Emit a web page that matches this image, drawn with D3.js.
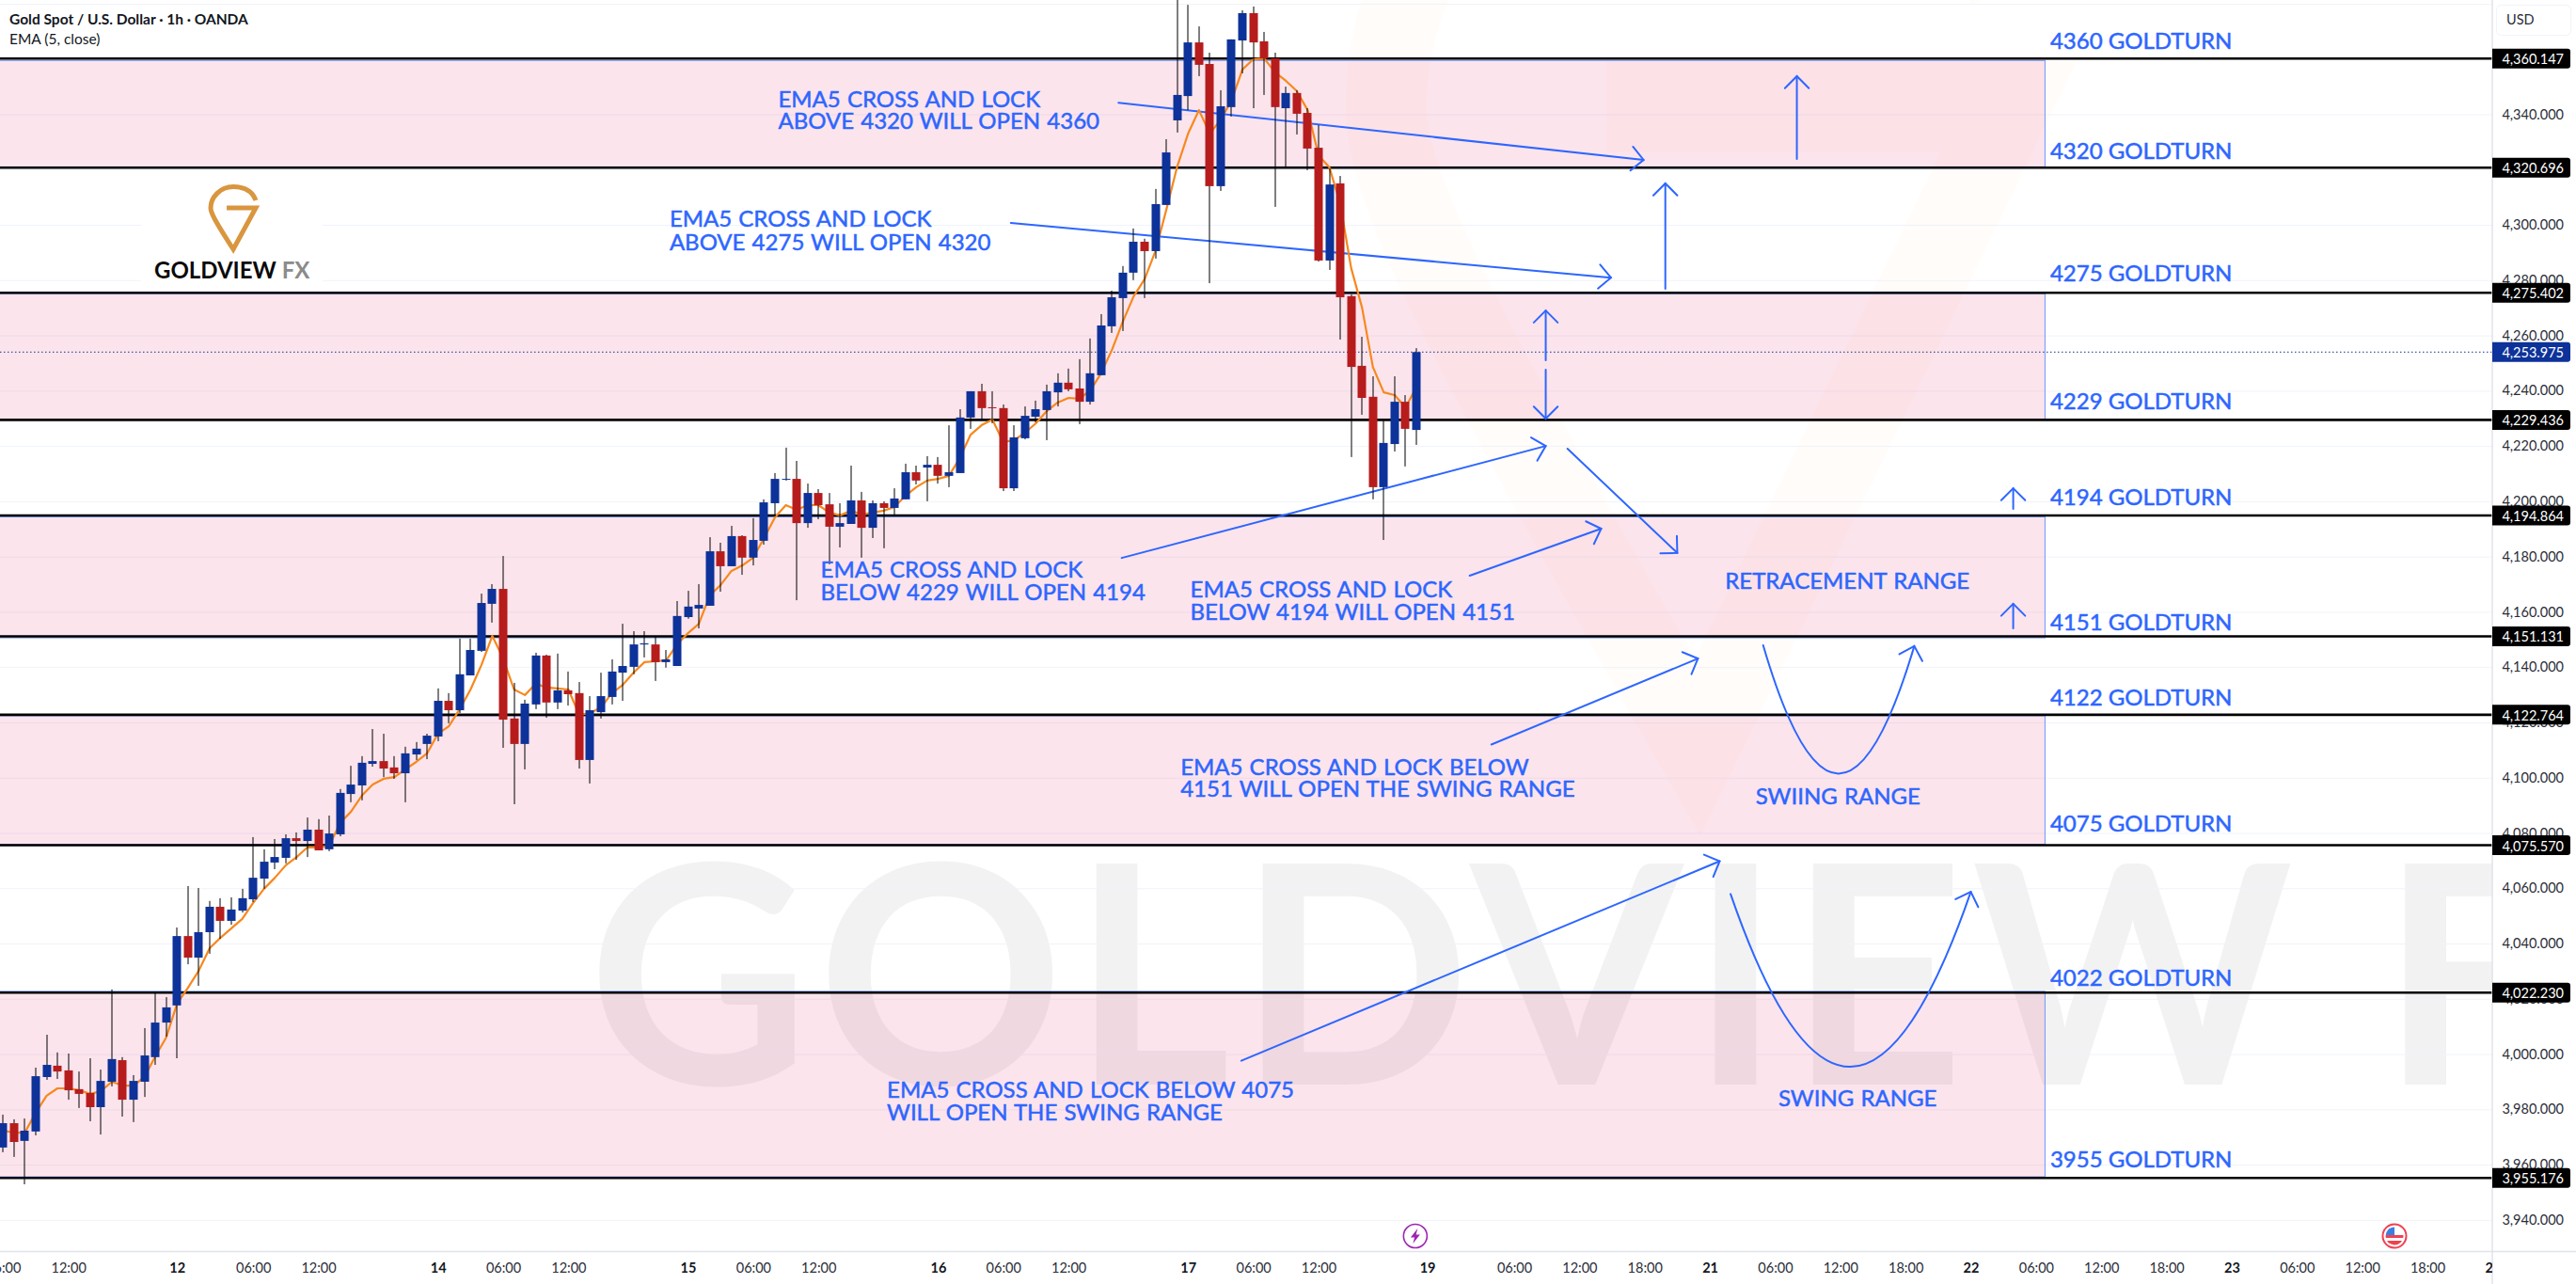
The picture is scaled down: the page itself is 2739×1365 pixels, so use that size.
<!DOCTYPE html>
<html>
<head>
<meta charset="utf-8">
<title>Gold Spot / U.S. Dollar 1h</title>
<script src="https://cdn.jsdelivr.net/npm/d3@7"></script>
<style>
  html, body { margin: 0; padding: 0; background: #fff; overflow: hidden; }
  svg { display: block; }
  text { font-family: "Lato", "Open Sans", sans-serif; }
</style>
</head>
<body>
<svg id="chart" width="2739" height="1365"></svg>
<script>
// Hourly OHLC for XAUUSD, one entry per bar.
const opens = [3966.2,3975.0,3968.6,3972.0,3991.7,3995.8,3994.1,3987.3,3985.9,3980.8,3990.0,3997.8,3983.5,3990.0,3998.9,4011.4,4017.6,4042.7,4034.9,4044.1,4053.3,4048.2,4051.9,4056.0,4063.5,4069.3,4071.0,4078.1,4077.1,4081.2,4074.1,4079.5,4094.1,4097.2,4105.0,4106.0,4103.7,4101.6,4108.4,4112.2,4114.9,4127.8,4124.4,4137.0,4145.9,4162.9,4168.3,4121.4,4112.2,4126.5,4144.2,4127.2,4131.6,4130.6,4106.4,4123.7,4129.2,4138.0,4140.1,4148.2,4148.2,4141.8,4140.4,4158.1,4161.2,4162.2,4181.9,4176.5,4187.4,4179.6,4185.7,4199.3,4207.8,4208.1,4192.1,4203.0,4198.9,4190.8,4191.8,4200.3,4190.4,4199.3,4197.6,4200.7,4210.5,4212.2,4213.2,4209.2,4210.2,4230.3,4239.8,4234.0,4233.7,4204.7,4222.8,4230.6,4233.0,4239.4,4242.9,4240.8,4236.0,4245.6,4263.3,4273.5,4282.7,4293.9,4290.5,4307.2,4337.8,4346.6,4366.0,4358.2,4314.0,4342.6,4366.7,4376.6,4366.4,4360.2,4342.2,4347.7,4340.5,4327.9,4287.1,4315.0,4274.2,4249.0,4237.8,4205.1,4220.7,4236.0,4225.8];
const highs = [3978.1,3976.4,3976.7,3995.1,4007.0,4000.6,4000.2,3993.7,3998.5,3994.4,4023.4,3998.9,3992.4,4009.4,4022.0,4020.6,4045.8,4060.8,4060.1,4055.4,4056.4,4056.7,4059.8,4078.5,4074.1,4077.8,4079.5,4080.2,4085.6,4085.0,4086.3,4095.9,4104.3,4107.8,4117.6,4115.9,4107.8,4111.2,4112.9,4115.9,4132.3,4130.6,4150.3,4150.3,4166.6,4170.0,4180.2,4134.3,4128.2,4145.2,4144.5,4144.9,4138.4,4134.6,4129.5,4138.0,4142.8,4155.7,4153.0,4153.0,4151.0,4146.2,4163.9,4167.6,4170.0,4187.0,4185.0,4191.1,4187.7,4193.9,4200.7,4210.2,4219.4,4214.6,4206.4,4204.4,4203.0,4199.3,4212.9,4203.4,4200.3,4200.0,4204.7,4213.6,4212.9,4216.3,4216.0,4227.5,4233.3,4239.8,4242.5,4239.8,4235.0,4227.5,4234.3,4236.4,4242.2,4246.3,4248.0,4251.4,4258.9,4267.7,4276.2,4285.1,4298.7,4295.0,4313.0,4331.0,4385.0,4379.6,4371.8,4362.3,4348.7,4367.1,4377.6,4379.0,4369.8,4362.3,4350.0,4348.7,4342.2,4336.1,4320.4,4317.7,4274.8,4259.5,4245.2,4229.2,4245.2,4238.4,4255.4];
const lows = [3964.5,3962.8,3952.9,3970.6,3990.7,3991.0,3983.5,3980.5,3975.7,3970.9,3988.3,3977.4,3975.4,3984.5,3996.1,4006.3,3998.5,4032.5,4024.7,4036.3,4041.7,4046.8,4051.2,4055.0,4059.8,4066.9,4069.0,4070.3,4071.3,4073.7,4073.4,4078.8,4091.1,4091.8,4104.0,4100.2,4099.6,4091.1,4106.4,4106.7,4113.2,4119.7,4123.4,4137.0,4145.5,4156.1,4110.8,4090.4,4103.0,4124.8,4121.7,4124.8,4126.1,4103.3,4097.9,4121.4,4126.5,4127.8,4137.4,4143.5,4135.0,4139.8,4140.4,4157.5,4154.0,4162.2,4167.3,4176.5,4173.4,4176.8,4184.3,4194.5,4207.5,4164.2,4190.4,4193.5,4177.2,4183.3,4191.8,4179.6,4186.7,4183.0,4195.2,4200.7,4206.1,4200.0,4206.4,4205.1,4210.2,4226.2,4229.2,4228.2,4203.7,4203.7,4222.4,4228.6,4222.1,4234.3,4239.8,4227.9,4235.0,4245.6,4260.9,4261.6,4280.0,4273.5,4287.8,4307.2,4333.4,4341.5,4353.8,4278.9,4312.3,4339.2,4354.8,4342.2,4347.0,4306.5,4321.1,4332.7,4319.8,4286.7,4283.7,4258.5,4216.0,4231.3,4200.7,4186.0,4218.0,4212.6,4220.4];
const closes = [3975.0,3968.2,3972.3,3992.0,3996.1,3993.7,3986.9,3985.6,3980.8,3990.3,3998.2,3983.5,3990.3,3999.5,4011.4,4016.9,4042.7,4034.9,4044.1,4053.3,4048.2,4052.3,4056.4,4063.8,4069.6,4071.3,4078.1,4077.1,4081.2,4073.7,4079.8,4094.5,4097.5,4105.4,4106.0,4103.3,4101.6,4108.8,4110.5,4115.2,4127.8,4124.4,4137.4,4146.2,4163.2,4168.3,4121.0,4112.2,4126.8,4144.2,4127.2,4131.6,4130.2,4106.4,4124.4,4129.5,4138.4,4140.4,4148.2,4148.6,4141.8,4142.8,4158.5,4161.9,4162.5,4181.9,4176.5,4187.4,4179.6,4186.0,4199.6,4208.1,4208.1,4192.1,4203.0,4198.6,4190.8,4192.1,4200.3,4190.4,4199.3,4197.6,4201.0,4210.5,4207.5,4213.2,4209.2,4210.5,4230.3,4239.8,4233.7,4233.7,4204.7,4223.1,4230.9,4233.3,4239.8,4242.9,4240.5,4236.0,4246.3,4263.6,4273.8,4282.7,4293.9,4290.5,4307.5,4326.2,4347.0,4366.0,4357.9,4314.0,4342.9,4367.1,4376.6,4366.0,4360.2,4342.6,4347.7,4340.2,4327.6,4287.1,4314.6,4273.8,4248.6,4237.4,4205.1,4221.1,4236.0,4226.2,4253.975];

// EMA(5, close) as plotted, one value per bar.
const emaValues = [3972.3,3971.6,3971.6,3978.8,3984.9,3987.6,3987.6,3986.9,3985.6,3986.6,3990.0,3988.6,3988.6,3991.7,3999.2,4006.0,4018.2,4024.0,4030.2,4038.3,4042.1,4045.5,4048.9,4054.7,4059.8,4063.8,4068.3,4071.3,4074.8,4074.8,4075.4,4083.6,4087.7,4093.5,4097.5,4099.6,4100.2,4103.0,4105.7,4108.8,4115.9,4118.6,4124.8,4131.9,4140.8,4151.3,4143.1,4131.9,4129.9,4134.0,4132.6,4132.3,4131.9,4122.7,4123.4,4125.4,4130.6,4133.6,4138.0,4141.8,4142.1,4142.5,4148.2,4152.3,4155.7,4165.9,4169.7,4174.8,4176.8,4179.6,4186.7,4194.2,4198.6,4196.9,4198.6,4198.6,4195.9,4194.9,4196.6,4195.2,4195.9,4196.6,4197.9,4202.0,4205.1,4207.5,4208.1,4209.2,4215.6,4224.1,4227.5,4229.6,4221.4,4222.1,4224.8,4228.2,4232.6,4235.7,4237.4,4237.1,4240.1,4246.3,4254.8,4265.0,4274.2,4280.3,4290.5,4305.5,4321.1,4333.0,4341.5,4333.0,4338.1,4345.0,4356.2,4359.9,4360.2,4355.2,4352.1,4348.4,4341.5,4325.2,4320.8,4307.5,4284.4,4270.1,4248.6,4239.4,4238.4,4234.0,4241.2];

// Horizontal GOLDTURN levels and their axis tags.
const levelPrices = [4360.147,4320.696,4275.402,4229.436,4194.864,4151.131,4122.764,4075.570,4022.230,3955.176];
const lastPrice = 4253.975;

// Shaded ranges: [upper price, lower price].
const rangeBands = [[4359.47,4321.0],[4275.1,4229.6],[4194.4,4150.6],[4122.4,4075.9],[4022.7,3955.6]];

const priceTicks = [4340,4300,4280,4260,4240,4220,4200,4180,4160,4140,4120,4100,4080,4060,4040,4020,4000,3980,3960,3940];
const gridTicks = [4380,4360,4340,4320,4300,4280,4260,4240,4220,4200,4180,4160,4140,4120,4100,4080,4060,4040,4020,4000,3980,3960,3940];

// Time axis: bar positions, labels and which ones mark a new day.
const timeBars = [0,6,16,23,29,40,46,52,63,69,75,86,92,98,109,115,121,131,139,145,151,157,163,169,175,181,187,193,199,205,211,217,223,229];
const timeLabels = ["06:00","12:00","12","06:00","12:00","14","06:00","12:00","15","06:00","12:00","16","06:00","12:00","17","06:00","12:00","19","06:00","12:00","18:00","21","06:00","12:00","18:00","22","06:00","12:00","18:00","23","06:00","12:00","18:00","24"];
const dayLabels = ["12","14","15","16","17","19","21","22","23","24"];

// Level captions: text, price at the text's vertical centre.
const levelCaptions = [["4360 GOLDTURN",4367.0],["4320 GOLDTURN",4327.2],["4275 GOLDTURN",4282.7],["4229 GOLDTURN",4236.4],["4194 GOLDTURN",4202.0],["4151 GOLDTURN",4156.7],["4122 GOLDTURN",4129.5],["4075 GOLDTURN",4083.6],["4022 GOLDTURN",4027.8],["3955 GOLDTURN",3962.4]];
const captionBar = 188.3;

// Free-standing notes: bar, price, text.
const notes = [
  [71.3,4345.9,"EMA5 CROSS AND LOCK"],[71.3,4337.8,"ABOVE 4320 WILL OPEN 4360"],
  [61.3,4302.4,"EMA5 CROSS AND LOCK"],[61.3,4293.9,"ABOVE 4275 WILL OPEN 4320"],
  [75.2,4175.8,"EMA5 CROSS AND LOCK"],[75.2,4167.3,"BELOW 4229 WILL OPEN 4194"],
  [109.2,4168.6,"EMA5 CROSS AND LOCK"],[109.2,4160.2,"BELOW 4194 WILL OPEN 4151"],
  [108.3,4104.3,"EMA5 CROSS AND LOCK BELOW"],[108.3,4096.2,"4151 WILL OPEN THE SWING RANGE"],
  [81.3,3987.3,"EMA5 CROSS AND LOCK BELOW 4075"],[81.3,3979.1,"WILL OPEN THE SWING RANGE"],
  [158.4,4171.7,"RETRACEMENT RANGE"],[161.2,4093.5,"SWIING RANGE"],[163.3,3984.4,"SWING RANGE"]
];

// Straight arrows: start bar, start price, tip bar, tip price.
const arrows = [
  [102.6,4344.2,150.9,4323.5],[92.7,4300.7,147.9,4280.9],[165.0,4323.8,165.0,4353.8],
  [152.9,4276.9,152.9,4315.0],[141.9,4251.0,141.9,4269.0],[141.9,4247.6,141.9,4229.9],
  [102.9,4179.5,141.9,4220.0],[143.9,4219.0,154.0,4181.3],[134.9,4173.1,147.0,4190.1],
  [184.9,4197.2,184.9,4204.7],[184.9,4154.0,184.9,4162.9],[136.9,4112.0,155.9,4143.1],
  [113.9,3997.6,157.9,4069.8]
];
// Curved arrows: start, control and tip, each as bar + price.
const curves = [
  [161.9,4147.9,168.8,4055.2,175.8,4147.6],
  [158.9,4057.9,169.9,3932.5,181.0,4058.7]
];

const BLUE_UP = "#0d3299", RED_DOWN = "#b71c1c", INK = "#2d66ff", PANE_W = 2650, PANE_H = 1330.5;

const x = d3.scaleLinear().domain([0,223]).range([3.3,2581]);
const y = d3.scaleLinear().domain([4360.147,3955.176]).range([62.3,1252.3]);

const svg = d3.select("#chart");
const defs = svg.append("defs");
defs.append("clipPath").attr("id","pane").append("rect").attr("width",PANE_W).attr("height",PANE_H);

const pane = svg.append("g").attr("clip-path","url(#pane)");

// Faint brand wordmark and pin behind the chart.
pane.append("text").attr("x",625).attr("y",1153)
  .attr("font-size",325).attr("font-weight",700).attr("letter-spacing",8)
  .attr("fill","rgba(0,0,0,0.05)").style("font-family","Lato").text("GOLDVIEW FX");

const PIN_PATH = "M24,-9C20,-20 10,-23.5 0,-23.5C-14,-23.5 -24,-12 -24,-1C-24,4 -20,12 0,43L24,-1L-7,-1";
pane.append("path").attr("d",PIN_PATH).attr("transform","translate(1805,128) scale(13.8,15.5)")
  .attr("fill","none").attr("stroke","rgba(240,160,60,0.03)").attr("stroke-width",6.2).attr("stroke-linejoin","miter");

// Price grid.
const grid = pane.append("g").call(d3.axisLeft(y).tickValues(gridTicks).tickSize(-PANE_W).tickFormat(""));
grid.select(".domain").remove();
grid.selectAll("line").attr("stroke","#f0f3fa").attr("stroke-width",1);

// Shaded ranges.
pane.append("g").selectAll("rect").data(rangeBands).join("rect")
  .attr("x",-2).attr("width",x(188.3)-5.5+2)
  .attr("y",d => y(d[0])).attr("height",d => y(d[1]) - y(d[0]))
  .attr("fill","rgba(233,30,99,0.12)").attr("stroke","#6c96ff").attr("stroke-width",1);

// Level lines.
pane.append("g").selectAll("line").data(levelPrices).join("line")
  .attr("x1",0).attr("x2",PANE_W).attr("y1",d => y(d)).attr("y2",d => y(d))
  .attr("stroke","#000").attr("stroke-width",2.6);

// Current price marker line.
pane.append("line").attr("x1",0).attr("x2",PANE_W).attr("y1",y(lastPrice)).attr("y2",y(lastPrice))
  .attr("stroke",BLUE_UP).attr("stroke-width",1).attr("stroke-dasharray","1.5 2.5");

// Drawn arrows sit under the candles.
const drawings = pane.append("g").attr("fill","none").attr("stroke",INK).attr("stroke-width",2).attr("stroke-linecap","round");
function chevron(fromX, fromY, tipX, tipY) {
  const a = Math.atan2(tipY - fromY, tipX - fromX), len = 18, spread = Math.PI * 0.75;
  const wing = s => [tipX + len * Math.cos(a + s), tipY + len * Math.sin(a + s)];
  return d3.line()([wing(spread), [tipX, tipY], wing(-spread)]);
}
arrows.forEach(a => {
  const [x0,y0,x1,y1] = [x(a[0]),y(a[1]),x(a[2]),y(a[3])];
  drawings.append("path").attr("d",d3.line()([[x0,y0],[x1,y1]]));
  drawings.append("path").attr("d",chevron(x0,y0,x1,y1));
});
curves.forEach(c => {
  const [x0,y0,cx,cy,x1,y1] = [x(c[0]),y(c[1]),x(c[2]),y(c[3]),x(c[4]),y(c[5])];
  const path = d3.path();
  path.moveTo(x0,y0);
  path.quadraticCurveTo(cx,cy,x1,y1);
  drawings.append("path").attr("d",path.toString());
  drawings.append("path").attr("d",chevron(cx,cy,x1,y1));
});

// EMA runs beneath the candle bodies.
pane.append("path").datum(emaValues)
  .attr("d",d3.line().x((d,i) => x(i)).y(d => y(d)))
  .attr("fill","none").attr("stroke","#f7881e").attr("stroke-width",2.2).attr("stroke-linejoin","round");

// Candles.
const candles = pane.append("g").selectAll("g").data(opens).join("g");
candles.append("rect")
  .attr("x",(d,i) => Math.round(x(i)) - 0.5).attr("width",1)
  .attr("y",(d,i) => y(highs[i])).attr("height",(d,i) => y(lows[i]) - y(highs[i]))
  .attr("fill","#000");
candles.append("rect")
  .attr("x",(d,i) => Math.round(x(i)) - 4.5).attr("width",9)
  .attr("y",(d,i) => y(Math.max(d,closes[i])))
  .attr("height",(d,i) => Math.max(1,Math.abs(y(d) - y(closes[i]))))
  .attr("fill",(d,i) => closes[i] >= d ? BLUE_UP : RED_DOWN);

// Notes and level captions.
const labels = pane.append("g").attr("fill",INK).attr("dominant-baseline","central")
  .attr("stroke",INK).attr("stroke-width",0.5);
labels.selectAll("text.note").data(notes).join("text").attr("class","note")
  .attr("x",d => x(d[0])).attr("y",d => y(d[1])).attr("font-size",24)
  .style("word-spacing","1px").text(d => d[2]);
labels.selectAll("text.cap").data(levelCaptions).join("text").attr("class","cap")
  .attr("x",x(captionBar)).attr("y",d => y(d[1])).attr("font-size",24).text(d => d[0]);

// Logo block with its white backing.
const logo = pane.append("g");
logo.append("rect").attr("x",150).attr("y",186).attr("width",193).attr("height",116).attr("fill","#fff");
logo.append("path").attr("d",PIN_PATH).attr("transform","translate(248,222)")
  .attr("fill","none").attr("stroke","#d9963f").attr("stroke-width",5);
const wordmark = logo.append("text").attr("x",164).attr("y",296).attr("font-size",24).attr("font-weight",700);
wordmark.append("tspan").attr("fill","#0a0a0a").text("GOLDVIEW");
wordmark.append("tspan").attr("fill","#8b8b8b").attr("dx",6).text("FX");

// Event markers along the bottom of the pane.
const bolt = svg.append("g").attr("transform",`translate(${x(129.9)},1314)`);
bolt.append("circle").attr("r",12.5).attr("fill","#fff").attr("stroke","#9c27b0").attr("stroke-width",1.6);
bolt.append("path").attr("d","M2.5,-8L-5,1.5L-0.8,1.5L-2.5,8L5,-1.5L0.8,-1.5Z").attr("fill","#9c27b0");
const flag = svg.append("g").attr("transform","translate(2546,1314)");
flag.append("circle").attr("r",12.5).attr("fill","#fff").attr("stroke","#f0414f").attr("stroke-width",2);
flag.append("clipPath").attr("id","flagDisc").append("circle").attr("r",9.5);
const disc = flag.append("g").attr("clip-path","url(#flagDisc)");
disc.append("rect").attr("x",-10).attr("y",-10).attr("width",20).attr("height",20).attr("fill","#fff");
disc.append("rect").attr("x",-10).attr("y",-1).attr("width",20).attr("height",3).attr("fill","#f0414f");
disc.append("rect").attr("x",-10).attr("y",5).attr("width",20).attr("height",5).attr("fill","#f0414f");
disc.append("rect").attr("x",-10).attr("y",-10).attr("width",10).attr("height",9).attr("fill","#3d7fe0");

// Header.
svg.append("text").attr("x",10).attr("y",26).attr("font-size",15.5).attr("font-weight",700).attr("fill","#131722")
  .text("Gold Spot / U.S. Dollar · 1h · OANDA");
svg.append("text").attr("x",10).attr("y",47).attr("font-size",15.5).attr("fill","#131722").text("EMA (5, close)");

// Price scale.
svg.append("line").attr("x1",PANE_W).attr("x2",PANE_W).attr("y1",0).attr("y2",1365).attr("stroke","#e0e3eb").attr("stroke-width",1.5);
svg.append("line").attr("x1",0).attr("x2",2739).attr("y1",PANE_H).attr("y2",PANE_H).attr("stroke","#e0e3eb").attr("stroke-width",1.5);
const priceAxis = svg.append("g").attr("transform",`translate(${PANE_W},0)`)
  .call(d3.axisRight(y).tickValues(priceTicks).tickSize(0).tickFormat(d3.format(",.3f")));
priceAxis.select(".domain").remove();
priceAxis.selectAll("text").attr("x",76).attr("text-anchor","end").attr("font-size",14.5).attr("fill","#2a2e39").style("font-family","Lato");

svg.append("rect").attr("x",2654.5).attr("y",5.5).attr("width",79).attr("height",32).attr("rx",5).attr("fill","#fff").attr("stroke","#f0f3fa");
svg.append("text").attr("x",2665).attr("y",26).attr("font-size",14.5).attr("fill","#2a2e39").text("USD");

// Tags for each level and for the current price.
const tag = (price, colour) => {
  const g = svg.append("g").attr("transform",`translate(${PANE_W},${y(price)})`);
  g.append("path").attr("d","M0,-10.5H80a3,3 0 0 1 3,3V7.5a3,3 0 0 1 -3,3H0Z").attr("fill",colour);
  g.append("text").attr("x",76).attr("y",0.5).attr("text-anchor","end").attr("dominant-baseline","central")
    .attr("font-size",14.5).attr("fill","#fff").text(d3.format(",.3f")(price));
};
levelPrices.forEach(p => tag(p,"#000"));
tag(lastPrice,BLUE_UP);

// Time scale, cut off at the right edge of the pane.
defs.append("clipPath").attr("id","timeClip").append("rect").attr("width",PANE_W).attr("y",PANE_H).attr("height",40);
const timeAxis = svg.append("g").attr("clip-path","url(#timeClip)").append("g").attr("transform",`translate(0,${PANE_H})`)
  .call(d3.axisBottom(x).tickValues(timeBars).tickSize(0).tickPadding(0)
    .tickFormat(d => timeLabels[timeBars.indexOf(d)]));
timeAxis.select(".domain").remove();
timeAxis.selectAll("text").attr("y",22).attr("dy",0).attr("font-size",14.5).style("font-family","Lato")
  .attr("fill",function(){ return dayLabels.includes(this.textContent) ? "#131722" : "#2a2e39"; })
  .attr("font-weight",function(){ return dayLabels.includes(this.textContent) ? 700 : 400; });
</script>
</body>
</html>
